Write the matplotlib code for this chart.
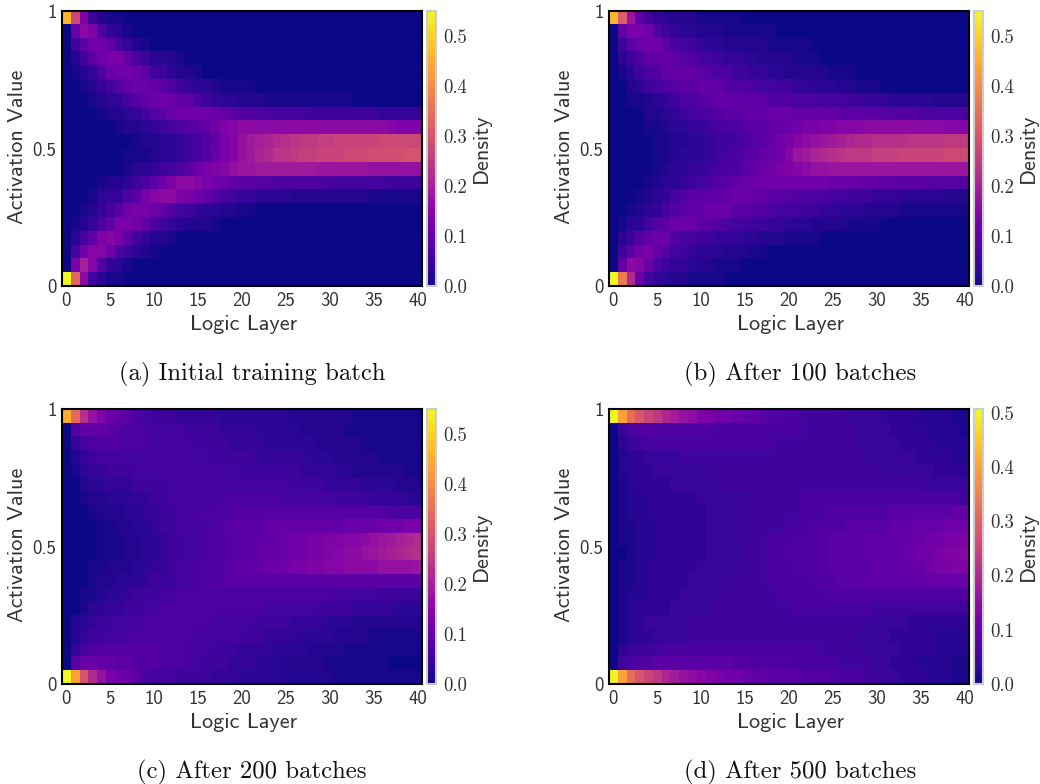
import matplotlib
matplotlib.use('Agg')
import matplotlib.pyplot as plt
import numpy as np

plt.rcParams['axes.formatter.use_mathtext'] = True

W, H = 1040, 784
n_layers = 41
x_ticks = [0, 5, 10, 15, 20, 25, 30, 35, 40]
y_ticks = [0, 0.5, 1]
y_ticklabels = ['0', '0.5', '1']
captions = ['(a) Initial training batch', '(b) After 100 batches',
            '(c) After 200 batches', '(d) After 500 batches']
vmax_values = [0.55, 0.55, 0.55, 0.507]
cbar_ticks = [0.0, 0.1, 0.2, 0.3, 0.4, 0.5]

# density x 100, top row first, trailing zeros left out
density_a = [
    [46, 28, 14, 5, 2, 1, 1],
    [0, 11, 16, 14, 7, 4, 3, 1],
    [0, 5, 9, 12, 12, 10, 6, 4, 2, 1],
    [0, 2, 5, 9, 12, 13, 13, 10, 7, 5, 3, 3, 2, 1],
    [0, 1, 2, 4, 7, 11, 12, 12, 11, 9, 6, 5, 3, 2, 2, 1],
    [0, 0, 1, 2, 4, 6, 8, 10, 11, 11, 10, 9, 7, 5, 4, 3, 3, 2, 1, 1, 1, 1],
    [0, 0, 0, 1, 2, 3, 4, 6, 8, 10, 11, 12, 11, 10, 9, 7, 5, 4, 3, 3, 2, 2, 2, 1, 1, 1, 1, 1, 1, 1, 1, 1, 1],
    [0, 0, 0, 0, 1, 2, 2, 3, 4, 6, 8, 9, 11, 12, 12, 12, 12, 11, 10, 9, 8, 8, 7, 7, 6, 6, 6, 6, 5, 5, 5, 5, 5, 5, 5, 5, 4, 4, 4, 4, 4],
    [0, 0, 0, 0, 0, 0, 1, 2, 2, 3, 4, 5, 6, 7, 8, 9, 10, 12, 14, 15, 16, 16, 16, 16, 16, 16, 16, 16, 16, 16, 16, 16, 16, 16, 16, 16, 16, 15, 14, 14, 14],
    [0, 0, 0, 0, 0, 0, 0, 0, 1, 2, 2, 3, 3, 4, 5, 6, 8, 10, 13, 15, 17, 19, 20, 21, 22, 23, 24, 25, 25, 26, 26, 27, 27, 27, 27, 27, 28, 28, 28, 28, 28],
    [0, 0, 0, 0, 0, 0, 0, 1, 1, 1, 2, 3, 3, 4, 5, 6, 8, 11, 13, 15, 17, 19, 21, 22, 24, 24, 25, 26, 26, 27, 27, 27, 28, 28, 28, 29, 29, 29, 29, 30, 30],
    [0, 0, 0, 0, 0, 0, 0, 1, 3, 3, 4, 5, 6, 7, 9, 11, 13, 14, 15, 17, 18, 18, 19, 19, 19, 19, 19, 19, 19, 18, 18, 18, 18, 18, 18, 17, 17, 17, 17, 17, 17],
    [0, 0, 0, 0, 1, 2, 2, 3, 5, 7, 9, 12, 14, 16, 16, 15, 13, 12, 11, 10, 9, 9, 8, 8, 8, 7, 7, 7, 7, 7, 6, 6, 6, 6, 6, 6, 6, 5, 5, 5, 5],
    [0, 0, 0, 1, 3, 4, 4, 7, 9, 13, 15, 16, 16, 14, 13, 12, 10, 8, 6, 5, 4, 4, 3, 3, 3, 3, 2, 2, 2, 2, 2, 2, 2, 2, 2, 1, 1, 1, 1, 1, 1],
    [0, 0, 1, 2, 4, 6, 9, 12, 13, 13, 12, 10, 8, 6, 5, 4, 3, 3, 2, 2, 1, 1],
    [0, 1, 2, 4, 7, 10, 13, 13, 12, 10, 7, 5, 4, 3, 2, 2, 2, 1],
    [0, 3, 6, 10, 14, 15, 13, 9, 6, 4, 2, 2, 1],
    [0, 6, 12, 15, 15, 12, 7, 5, 3, 2, 1],
    [0, 13, 20, 15, 8, 4, 3, 1],
    [55, 33, 16, 6, 3, 1, 1],
]
density_b = [
    [46, 32, 18, 10, 6, 4, 3, 2, 2, 2, 1, 1, 1, 1, 1],
    [0, 10, 13, 13, 12, 7, 5, 4, 3, 3, 2, 2, 2, 1, 1, 1, 1, 1, 1],
    [0, 5, 9, 11, 12, 12, 9, 7, 6, 5, 4, 3, 3, 2, 2, 2, 2, 2, 1, 1, 1, 1, 1],
    [0, 3, 5, 7, 10, 10, 10, 10, 8, 8, 6, 6, 5, 4, 4, 3, 3, 2, 2, 2, 2, 1, 1, 1],
    [0, 1, 3, 5, 7, 8, 10, 10, 10, 10, 9, 8, 7, 7, 5, 5, 4, 4, 3, 3, 2, 2, 2, 2, 2, 1, 1, 1],
    [0, 0, 2, 3, 5, 6, 7, 8, 9, 9, 10, 10, 10, 8, 8, 7, 7, 6, 6, 5, 5, 4, 4, 3, 3, 3, 2, 2, 1, 1, 1],
    [0, 0, 1, 1, 2, 3, 4, 5, 7, 7, 8, 9, 10, 10, 10, 10, 10, 9, 8, 8, 8, 7, 7, 7, 6, 6, 6, 5, 5, 4, 4, 4, 3, 3, 3, 3, 3, 2, 2, 2, 2],
    [0, 0, 0, 0, 2, 2, 3, 4, 5, 6, 7, 7, 8, 9, 9, 10, 10, 10, 11, 11, 11, 10, 10, 10, 10, 10, 9, 9, 9, 9, 9, 8, 8, 8, 8, 7, 7, 7, 7, 7, 7],
    [0, 0, 0, 0, 1, 1, 2, 3, 3, 4, 4, 5, 6, 7, 7, 8, 9, 9, 10, 10, 11, 12, 13, 13, 14, 14, 15, 15, 15, 16, 16, 16, 16, 16, 16, 16, 16, 16, 15, 15, 15],
    [0, 0, 0, 0, 0, 1, 1, 2, 2, 3, 3, 4, 5, 5, 6, 7, 8, 9, 10, 12, 13, 15, 16, 17, 18, 19, 20, 21, 22, 22, 23, 23, 23, 23, 24, 24, 24, 24, 25, 25, 25],
    [0, 0, 0, 0, 0, 1, 1, 2, 3, 3, 3, 4, 5, 6, 7, 8, 9, 10, 11, 12, 15, 18, 19, 21, 22, 23, 24, 25, 25, 25, 26, 26, 26, 27, 27, 27, 27, 27, 28, 28, 28],
    [0, 0, 0, 0, 0, 1, 2, 3, 3, 4, 4, 5, 6, 7, 7, 9, 10, 11, 12, 13, 14, 15, 16, 17, 17, 18, 18, 18, 18, 18, 18, 18, 18, 18, 18, 18, 18, 18, 18, 18, 18],
    [0, 0, 0, 0, 1, 2, 3, 3, 4, 5, 6, 7, 8, 9, 10, 11, 11, 12, 12, 12, 12, 12, 12, 12, 12, 11, 11, 11, 10, 10, 10, 10, 9, 9, 9, 9, 8, 8, 8, 8, 8],
    [0, 0, 0, 1, 2, 3, 4, 6, 8, 9, 9, 10, 10, 10, 11, 11, 10, 10, 9, 9, 8, 8, 7, 7, 7, 6, 6, 5, 5, 5, 4, 4, 4, 3, 3, 3, 3, 3, 2, 2, 2],
    [0, 0, 1, 2, 3, 4, 6, 8, 9, 10, 10, 11, 11, 11, 9, 9, 8, 8, 7, 6, 6, 6, 5, 5, 4, 4, 3, 3, 3, 2, 2, 2, 2, 1, 1, 1, 1, 1, 1, 1, 1],
    [0, 1, 3, 3, 6, 8, 9, 11, 11, 11, 9, 9, 8, 7, 6, 6, 5, 5, 4, 4, 3, 3, 3, 2, 2, 2, 2, 1, 1, 1, 1],
    [0, 3, 5, 8, 10, 11, 11, 8, 6, 6, 5, 5, 4, 4, 4, 3, 3, 2, 2, 2, 1, 1, 1, 1],
    [0, 5, 9, 12, 13, 10, 8, 6, 5, 4, 3, 3, 3, 2, 2, 2, 1, 1],
    [0, 10, 16, 15, 11, 7, 5, 4, 4, 3, 2, 2, 1, 1, 1],
    [55, 37, 22, 11, 6, 4, 3, 2, 2, 1, 1, 1, 1],
]
density_c = [
    [45, 34, 23, 17, 14, 11, 10, 9, 7, 6, 5, 5, 5, 4, 4, 4, 4, 4, 3, 3, 3, 3, 3, 3, 3, 3, 2, 2, 2, 2, 2, 2, 2, 1, 1, 1, 1, 1, 1, 1, 1],
    [0, 8, 10, 10, 10, 9, 8, 7, 7, 7, 6, 6, 6, 6, 5, 5, 5, 5, 4, 4, 4, 4, 3, 3, 3, 3, 3, 2, 2, 2, 2, 2, 1, 1, 1, 1, 1, 1, 1, 1, 1],
    [0, 4, 6, 7, 8, 8, 8, 7, 7, 7, 6, 6, 6, 6, 6, 5, 5, 5, 5, 4, 4, 4, 4, 3, 3, 3, 3, 3, 3, 2, 2, 2, 2, 2, 1, 1, 1, 1, 1, 1, 1],
    [0, 2, 4, 5, 6, 6, 6, 6, 6, 6, 6, 6, 6, 6, 6, 6, 6, 5, 5, 5, 5, 5, 4, 4, 4, 4, 4, 4, 3, 3, 3, 2, 2, 2, 2, 2, 1, 1, 1, 1, 1],
    [0, 1, 3, 4, 4, 5, 5, 5, 6, 6, 6, 6, 6, 6, 6, 6, 6, 6, 6, 6, 5, 5, 5, 5, 5, 5, 5, 4, 4, 4, 4, 3, 3, 2, 2, 2, 2, 2, 2, 1, 1],
    [0, 0, 2, 3, 3, 4, 4, 4, 5, 5, 5, 5, 6, 6, 6, 6, 6, 6, 6, 6, 6, 6, 6, 6, 6, 6, 5, 5, 5, 5, 4, 4, 4, 4, 3, 3, 3, 3, 2, 2, 2],
    [0, 0, 1, 2, 2, 3, 3, 3, 4, 4, 5, 5, 6, 6, 6, 6, 6, 6, 7, 7, 7, 7, 7, 7, 7, 6, 6, 6, 6, 6, 6, 5, 5, 5, 5, 4, 4, 4, 4, 3, 3],
    [0, 0, 0, 1, 2, 2, 2, 3, 3, 4, 4, 5, 5, 6, 6, 7, 7, 7, 7, 8, 8, 8, 8, 8, 8, 8, 8, 8, 8, 8, 8, 8, 8, 8, 8, 8, 8, 7, 7, 7, 7],
    [0, 0, 0, 0, 1, 1, 2, 2, 3, 3, 4, 5, 5, 6, 6, 6, 7, 7, 8, 9, 9, 9, 9, 10, 10, 10, 10, 10, 10, 10, 10, 10, 11, 11, 11, 11, 12, 12, 12, 13, 13],
    [0, 0, 0, 0, 1, 1, 1, 2, 2, 3, 3, 4, 5, 5, 6, 6, 7, 7, 8, 8, 9, 9, 10, 10, 10, 11, 12, 12, 13, 13, 14, 14, 15, 15, 16, 17, 18, 19, 20, 21, 22],
    [0, 0, 0, 0, 1, 1, 1, 2, 2, 3, 3, 4, 5, 5, 6, 6, 7, 7, 8, 8, 9, 9, 10, 10, 10, 11, 12, 12, 13, 13, 14, 15, 16, 16, 17, 18, 19, 20, 21, 22, 23],
    [0, 0, 0, 1, 1, 2, 2, 2, 3, 3, 4, 4, 5, 6, 6, 7, 7, 8, 8, 9, 9, 10, 10, 11, 11, 12, 13, 13, 14, 14, 15, 15, 16, 16, 16, 16, 17, 17, 17, 17, 18],
    [0, 0, 0, 1, 2, 2, 3, 3, 3, 4, 5, 5, 5, 6, 6, 7, 7, 8, 8, 9, 9, 9, 9, 9, 9, 9, 9, 9, 9, 9, 9, 9, 9, 9, 9, 9, 9, 9, 9, 9, 9],
    [0, 0, 1, 1, 2, 3, 3, 4, 5, 5, 5, 6, 6, 7, 7, 7, 7, 7, 7, 7, 7, 7, 7, 7, 7, 7, 7, 7, 7, 7, 7, 6, 6, 6, 6, 6, 5, 5, 5, 5, 5],
    [0, 0, 1, 3, 3, 4, 4, 5, 5, 6, 6, 7, 7, 7, 7, 7, 7, 7, 7, 7, 7, 7, 7, 6, 6, 6, 6, 6, 6, 5, 5, 5, 5, 4, 4, 4, 4, 4, 3, 3, 3],
    [0, 2, 3, 4, 5, 5, 6, 6, 6, 7, 7, 7, 7, 7, 7, 7, 7, 6, 6, 6, 6, 6, 5, 5, 5, 5, 4, 4, 4, 4, 3, 3, 3, 2, 2, 2, 2, 2, 2, 2, 2],
    [0, 2, 4, 5, 5, 6, 6, 7, 7, 7, 7, 7, 7, 7, 7, 6, 6, 6, 6, 6, 5, 5, 5, 4, 4, 4, 4, 3, 3, 3, 3, 2, 2, 2, 2, 1, 1, 1, 1, 1, 1],
    [0, 4, 6, 7, 8, 8, 8, 8, 8, 8, 8, 7, 7, 7, 6, 6, 6, 5, 5, 5, 4, 4, 4, 4, 3, 3, 3, 3, 2, 2, 2, 2, 1, 1, 1, 1, 1, 1, 1, 1, 1],
    [0, 8, 11, 11, 10, 10, 9, 9, 8, 8, 8, 7, 7, 7, 6, 6, 5, 5, 5, 4, 4, 4, 3, 3, 3, 2, 2, 2, 2, 2, 1, 1, 1, 1, 1, 1, 1],
    [55, 43, 30, 22, 17, 13, 12, 11, 9, 7, 6, 6, 6, 5, 5, 5, 5, 4, 4, 4, 3, 3, 3, 3, 3, 2, 2, 2, 2, 2, 2, 1, 1, 1, 1, 1, 1, 1, 1, 1, 1],
]
density_d = [
    [50, 40, 32, 28, 25, 23, 20, 18, 16, 15, 13, 12, 11, 11, 10, 9, 9, 8, 7, 7, 6, 6, 5, 5, 5, 5, 5, 4, 4, 4, 4, 3, 3, 3, 3, 2, 2, 2, 2, 1, 1],
    [0, 4, 6, 7, 7, 7, 7, 7, 7, 7, 7, 7, 6, 6, 6, 6, 6, 6, 6, 6, 6, 6, 5, 5, 5, 5, 5, 5, 4, 4, 4, 4, 3, 3, 3, 3, 2, 2, 2, 2, 1],
    [0, 3, 4, 5, 6, 6, 6, 6, 6, 6, 6, 6, 6, 6, 6, 6, 6, 6, 6, 5, 5, 5, 5, 5, 5, 5, 5, 5, 4, 4, 4, 4, 4, 3, 3, 3, 3, 2, 2, 2, 2],
    [0, 2, 3, 3, 4, 4, 4, 4, 5, 5, 5, 5, 5, 5, 5, 5, 5, 5, 5, 5, 5, 5, 5, 5, 5, 5, 5, 5, 5, 4, 4, 4, 4, 4, 4, 3, 3, 3, 3, 2, 2],
    [0, 2, 3, 3, 3, 4, 4, 4, 4, 4, 4, 4, 5, 5, 5, 5, 5, 5, 5, 5, 5, 5, 5, 5, 5, 5, 5, 5, 5, 5, 5, 4, 4, 4, 4, 4, 4, 3, 3, 3, 3],
    [0, 1, 2, 3, 3, 3, 3, 4, 4, 4, 4, 4, 4, 5, 5, 5, 5, 5, 5, 5, 5, 5, 5, 5, 5, 5, 5, 5, 5, 5, 5, 5, 5, 5, 5, 5, 4, 4, 4, 4, 4],
    [0, 1, 2, 2, 3, 3, 3, 3, 3, 3, 4, 4, 4, 4, 4, 4, 5, 5, 5, 5, 5, 5, 6, 6, 6, 6, 6, 6, 6, 6, 6, 6, 6, 6, 6, 6, 6, 6, 6, 6, 5],
    [0, 1, 2, 2, 3, 3, 3, 3, 3, 3, 3, 4, 4, 4, 4, 4, 5, 5, 5, 5, 5, 5, 6, 6, 6, 7, 7, 7, 7, 7, 7, 7, 8, 8, 8, 8, 8, 8, 8, 9, 9],
    [0, 1, 1, 2, 2, 3, 3, 3, 3, 3, 3, 4, 4, 4, 4, 4, 5, 5, 5, 5, 6, 6, 6, 7, 7, 7, 7, 8, 8, 8, 8, 8, 9, 9, 9, 10, 10, 10, 11, 11, 11],
    [0, 1, 1, 2, 2, 3, 3, 3, 3, 3, 3, 4, 4, 4, 4, 5, 5, 5, 6, 6, 6, 7, 7, 7, 7, 8, 8, 8, 8, 9, 9, 9, 9, 9, 10, 10, 11, 11, 12, 12, 13],
    [0, 0, 1, 2, 2, 3, 3, 3, 3, 3, 3, 4, 4, 4, 4, 5, 5, 5, 6, 6, 7, 7, 7, 7, 7, 8, 8, 8, 8, 9, 9, 9, 9, 10, 10, 11, 11, 12, 13, 13, 14],
    [0, 1, 1, 2, 3, 3, 3, 3, 3, 3, 4, 4, 4, 4, 4, 5, 5, 5, 6, 6, 6, 7, 7, 7, 7, 8, 8, 8, 8, 8, 9, 9, 9, 9, 10, 10, 11, 12, 12, 13, 13],
    [0, 1, 1, 2, 3, 3, 3, 3, 3, 4, 4, 4, 4, 4, 5, 5, 5, 5, 6, 6, 6, 6, 6, 7, 7, 7, 8, 8, 8, 9, 9, 9, 9, 9, 9, 9, 10, 10, 10, 10, 10],
    [0, 1, 2, 2, 3, 3, 3, 3, 4, 4, 4, 4, 4, 5, 5, 5, 5, 5, 5, 6, 6, 6, 6, 6, 6, 7, 7, 7, 7, 7, 7, 7, 7, 7, 7, 7, 7, 7, 7, 7, 7],
    [0, 1, 2, 3, 3, 3, 3, 4, 4, 4, 4, 4, 5, 5, 5, 5, 5, 5, 5, 5, 5, 6, 6, 6, 6, 6, 6, 6, 6, 6, 5, 5, 5, 5, 5, 5, 5, 5, 5, 5, 5],
    [0, 1, 2, 3, 4, 4, 4, 4, 4, 5, 5, 5, 5, 5, 5, 5, 5, 5, 5, 5, 5, 5, 5, 5, 5, 5, 5, 5, 5, 4, 4, 4, 4, 4, 3, 3, 3, 3, 3, 3, 3],
    [0, 1, 2, 3, 3, 4, 4, 4, 4, 5, 5, 5, 5, 5, 5, 5, 5, 5, 5, 5, 5, 5, 5, 5, 5, 5, 5, 5, 4, 4, 4, 4, 3, 3, 3, 3, 3, 2, 2, 2, 2],
    [0, 3, 4, 4, 5, 5, 6, 6, 6, 6, 6, 6, 6, 6, 6, 6, 6, 6, 6, 6, 6, 6, 6, 6, 5, 5, 5, 5, 5, 4, 4, 4, 4, 3, 3, 3, 3, 2, 2, 2, 2],
    [0, 5, 6, 7, 7, 8, 8, 8, 8, 8, 8, 8, 8, 8, 7, 7, 7, 7, 7, 7, 7, 6, 6, 6, 6, 6, 5, 5, 5, 5, 4, 4, 3, 3, 3, 2, 2, 2, 2, 1, 1],
    [50, 40, 32, 28, 25, 23, 20, 18, 16, 15, 14, 13, 12, 11, 11, 10, 9, 9, 8, 8, 8, 8, 7, 7, 7, 7, 6, 6, 6, 5, 5, 4, 4, 3, 3, 3, 2, 2, 2, 1, 1],
]


def to_grid(rows):
    grid = np.zeros((len(rows), n_layers))
    for i, row in enumerate(rows):
        if len(row) > n_layers or (row[-1] > 1 and len(row) < n_layers):
            raise ValueError('row %d has length %d' % (i, len(row)))
        grid[i, :len(row)] = row
    return grid / 100


def px_axes(fig, left, top, right, bottom):
    return fig.add_axes([left / W, 1 - bottom / H, (right - left) / W, (bottom - top) / H])


fig = plt.figure(figsize=(W / 100, H / 100), dpi=100)
panels = [density_a, density_b, density_c, density_d]
lefts = [62, 609, 62, 609]
tops = [11, 11, 409, 409]
caption_x = [252, 800, 252, 800]
caption_y = [374, 374, 772, 772]

for i in range(4):
    left, top = lefts[i], tops[i]
    ax = px_axes(fig, left, top, left + 360, top + 275)
    im = ax.imshow(to_grid(panels[i]), cmap='plasma', vmin=0, vmax=vmax_values[i], aspect='auto',
                   interpolation='nearest', extent=(-0.5, 40.5, 0, 1))
    ax.set_xticks(x_ticks)
    ax.set_xticklabels([str(t) for t in x_ticks], family='cmss10', fontsize=13.5, color='#333333')
    ax.set_yticks(y_ticks)
    ax.set_yticklabels(y_ticklabels, family='cmss10', fontsize=13.5, color='#333333')
    ax.tick_params(length=0, pad=4)
    ax.set_xlabel('Logic Layer', family='cmss10', fontsize=16, color='#333333')
    ax.set_ylabel('Activation Value', family='cmss10', fontsize=16, color='#333333')
    ax.xaxis.set_label_coords(0.505, -0.105)
    ax.yaxis.set_label_coords(-0.097, 0.507)
    for s in ax.spines.values():
        s.set_linewidth(1.5)
        s.set_color('black')

    cax = px_axes(fig, left + 365, top, left + 374, top + 275)
    cb = fig.colorbar(im, cax=cax)
    cb.set_ticks(cbar_ticks)
    cb.set_ticklabels(['%.1f' % t for t in cbar_ticks])
    cax.tick_params(length=0, pad=5, labelsize=13.5, labelcolor='#333333')
    for lab in cax.get_yticklabels():
        lab.set_family('cmr10')
    cb.outline.set_edgecolor('#cccccc')
    cb.outline.set_linewidth(1.5)
    fig.text((left + 419) / W, 1 - (top + 137) / H, 'Density', family='cmss10', fontsize=16,
             color='#333333', rotation=90, ha='center', va='center')

    fig.text(caption_x[i] / W, 1 - caption_y[i] / H, captions[i], family='cmr10', fontsize=17.8,
             color='#111111', ha='center', va='center')

fig.savefig('out.png', dpi=100)
